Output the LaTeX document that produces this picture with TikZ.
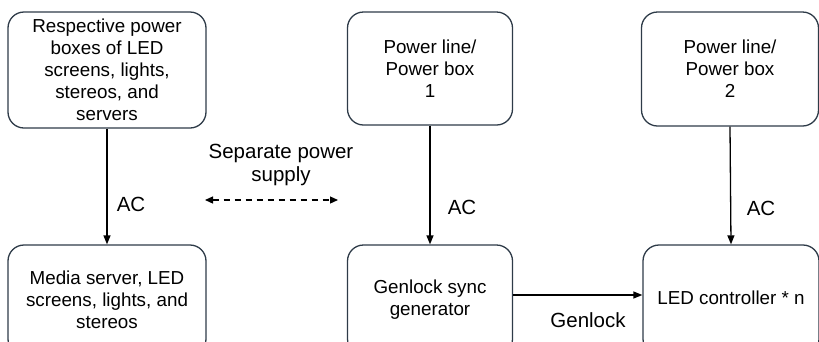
\documentclass[tikz,border=0pt]{standalone}
\usepackage{fontspec}
\setmainfont{Liberation Sans}
\usetikzlibrary{arrows.meta}
\definecolor{boxc}{HTML}{2E3B48}
\begin{document}
\begin{tikzpicture}[x=1pt,y=-1pt,
  box/.style={draw=boxc, line width=1.3pt, rounded corners=16pt, align=center,
    font=\fontsize{18.8}{22}\selectfont, inner sep=0pt},
  lbl/.style={font=\fontsize{20.5}{23}\selectfont, inner sep=0pt, align=center},
  arr/.style={-{Triangle[length=9pt,width=7pt]}, line width=1.3pt}]
\useasboundingbox (0,0) rectangle (819,341);
\node[box, minimum width=198pt, minimum height=116pt] (b1) at (107,70)
  {Respective power\\boxes of LED\\screens, lights,\\stereos, and\\servers};
\node[box, minimum width=198pt, minimum height=110pt] (b2) at (107,300)
  {\raisebox{8pt}{\parbox{190pt}{\centering Media server, LED\\screens, lights, and\\stereos}}};
\node[box, minimum width=165pt, minimum height=113pt] (p1) at (430,68.5)
  {\raisebox{-4pt}{\parbox{150pt}{\centering Power line/\\Power box\\1}}};
\node[box, minimum width=165pt, minimum height=110pt] (gen) at (430,300)
  {\raisebox{4pt}{\parbox{150pt}{\centering Genlock sync\\generator}}};
\node[box, minimum width=177pt, minimum height=114pt] (p2) at (730,69)
  {Power line/\\Power box\\2};
\node[box, minimum width=176pt, minimum height=110pt] (led) at (731,300)
  {\raisebox{4pt}{LED controller * n}};
\draw[arr] (b1.south) -- (b2.north);
\draw[arr] (p1.south) -- (gen.north);
\draw[arr] (p2.south) -- (led.north);
\draw[arr] ([yshift=5pt]gen.east) -- ([yshift=5pt]led.west);
\node[lbl] (ac1) at (131,204) {AC};
\node[lbl] (ac2) at (462,207) {AC};
\node[lbl] (ac3) at (761,208) {AC};
\node[lbl] (gl) at (588,320) {Genlock};
\node[lbl] (sep) at (281,165) {Separate power\\supply};
\coordinate (dl) at (205,200);
\coordinate (dr) at (338,200);
\draw[{Triangle[length=8pt,width=7pt]}-{Triangle[length=8pt,width=7pt]}, line width=1.2pt, dash pattern=on 6pt off 5pt] (dl) -- (dr);
\end{tikzpicture}
\end{document}
